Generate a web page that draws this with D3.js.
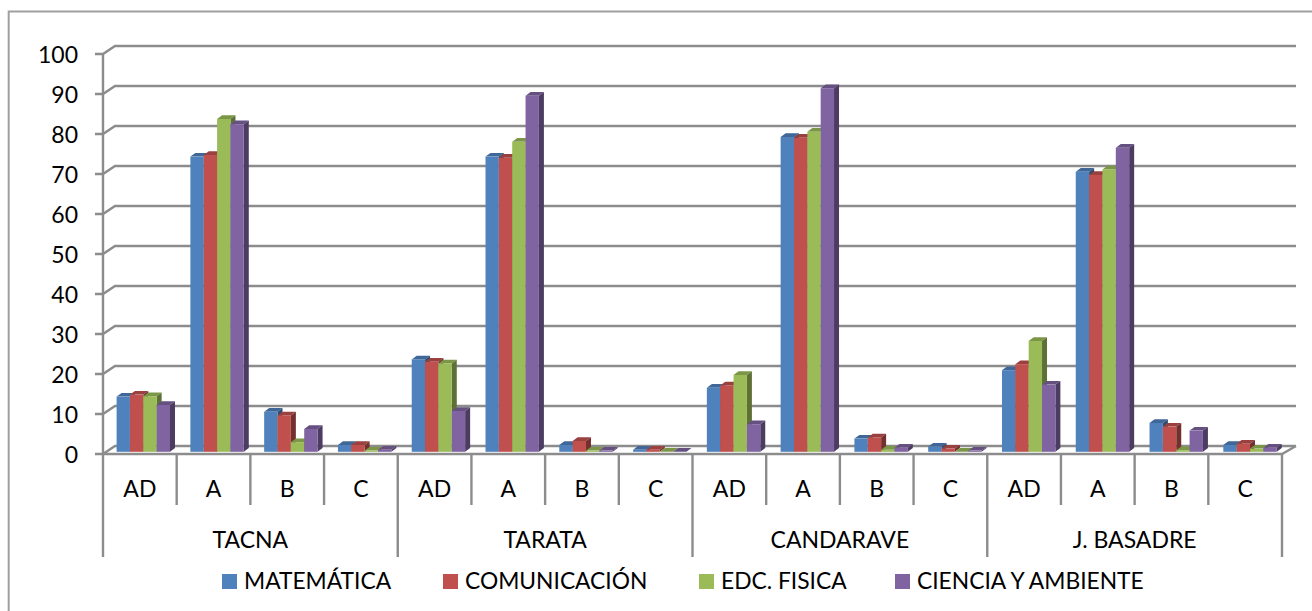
<!DOCTYPE html>
<html><head><meta charset="utf-8">
<style>html,body{margin:0;padding:0;background:#fff}svg{display:block}text{font-family:Lato,"Open Sans",sans-serif;fill:#000}</style>
<script src="https://cdn.jsdelivr.net/npm/d3@7"></script></head><body>
<svg id="c" width="1312" height="611"></svg>
<script>
const groups = ["TACNA","TARATA","CANDARAVE","J. BASADRE"];
const levels = ["AD","A","B","C"];
const seriesNames = ["MATEMÁTICA","COMUNICACIÓN","EDC. FISICA","CIENCIA Y AMBIENTE"];
const matematica   = [13.8,73.8,10,1.7, 23.1,73.8,1.7,0.5, 16,78.7,3.3,1.3, 20.4,70,7.2,1.7];
const comunicacion = [14.3,74.2,9.1,1.7, 22.5,73.5,2.7,0.5, 16.6,78.5,3.6,0.8, 21.9,69.2,6.3,2];
const edcFisica    = [13.9,83.2,2.4,0.3, 22.1,77.5,0.3,0, 19.2,80,0.5,0, 27.7,70.6,0.4,0.8];
const ciencia      = [11.7,81.9,5.7,0.5, 10.2,89,0.3,0, 6.9,90.9,1,0.3, 16.8,76,5.3,1];
const yTicks = [0,10,20,30,40,50,60,70,80,90,100];

const seriesVals = [matematica,comunicacion,edcFisica,ciencia];
const front = ["#4f81bd","#c0504d","#9bbb59","#8064a2"];
const topC  = ["#3f6797","#9a403e","#7c9647","#665082"];
const sideC = ["#2f4d71","#73302e","#5d7035","#4d3c61"];
const grid = "#8c8c8c";

const svg = d3.select("#c");
// chart frame
svg.append("path").attr("d","M1312,11.5H8.7V611").attr("fill","none").attr("stroke","#a0a0a0").attr("stroke-width",2);

const y = d3.scaleLinear().domain([0,100]).range([454,54]);
const keys = d3.range(16);
const x = d3.scaleBand().domain(keys).range([103,1282]);
const xBars = d3.scaleBand().domain(keys).range([103,1283.5]);
const gx = d3.scaleBand().domain(groups).range([103,1282]);
const inner = d3.scaleBand().domain(d3.range(4)).range([13.6,13.6+53.4]);
const dpX=12, dpY=8, barDx=5, barDy=3.7, baseLift=2.2;

const lw=2.4;
const g=svg.append("g").attr("fill","none").attr("stroke",grid).attr("stroke-width",lw);
yTicks.forEach(t=>{
  g.append("path").attr("d",`M95,${y(t)}H103L${103+dpX},${y(t)-dpY}H1296`);
});
g.append("path").attr("d",`M103,${y(100)}V${y(0)}`);
g.append("path").attr("d",`M103,${y(0)}H1282L1296,${y(0)-dpY}`);
keys.concat([16]).forEach(i=>{
  const px=103+i*x.bandwidth();
  const long=i%4===0;
  g.append("path").attr("d",`M${px},${y(0)}V${long?557:505}`);
});

const bars=svg.append("g");
keys.forEach(k=>{
  seriesVals.forEach((vals,s)=>{
    const v=vals[k];
    const x0=xBars(k)+inner(s), w=inner.bandwidth();
    const yTop=y(v)-baseLift, yBot=y(0)-baseLift;
    const b=bars.append("g");
    b.append("path").attr("fill",topC[s]).attr("d",`M${x0},${yTop}l${barDx},${-barDy}h${w}l${-barDx},${barDy}z`);
    b.append("path").attr("fill",sideC[s]).attr("d",`M${x0+w},${yTop}l${barDx},${-barDy}V${yBot-barDy}l${-barDx},${barDy}z`);
    b.append("rect").attr("x",x0).attr("y",yTop).attr("width",w).attr("height",yBot-yTop).attr("fill",front[s]);
  });
});

const fs=23;
yTicks.forEach(t=>svg.append("text").attr("x",78).attr("y",y(t)+1).attr("dy","0.35em").attr("text-anchor","end").attr("font-size",fs).text(t));
keys.forEach(k=>svg.append("text").attr("x",x(k)+x.bandwidth()/2).attr("y",497).attr("text-anchor","middle").attr("font-size",fs).text(levels[k%4]));
groups.forEach(n=>svg.append("text").attr("x",gx(n)+gx.bandwidth()/2).attr("y",547.5).attr("text-anchor","middle").attr("font-size",fs).text(n));

const legX=[222,443,699,895];
seriesNames.forEach((n,s)=>{
  svg.append("rect").attr("x",legX[s]).attr("y",574).attr("width",15).attr("height",15).attr("fill",front[s]);
  svg.append("text").attr("x",legX[s]+22).attr("y",589).attr("font-size",22.8).text(n);
});
</script></body></html>
